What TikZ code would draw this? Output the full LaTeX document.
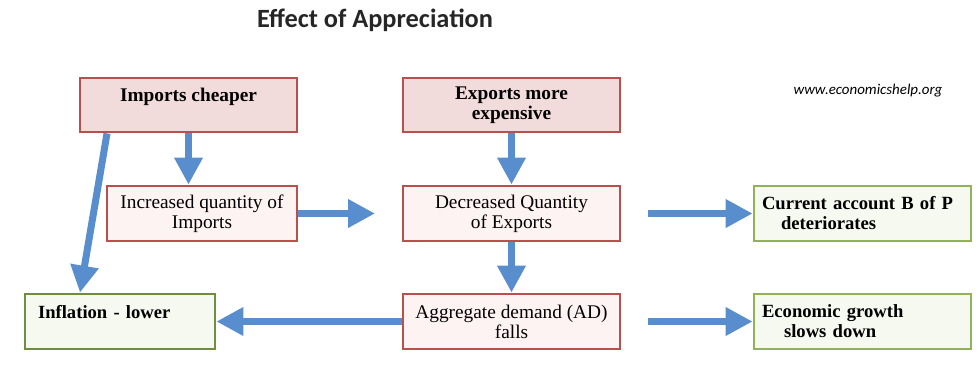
\documentclass[tikz,border=0pt]{standalone}
\usepackage{fontspec}
\setmainfont{Liberation Serif}
\newfontfamily\headfont{Carlito}
\usetikzlibrary{arrows.meta}
\definecolor{redline}{RGB}{185,80,77}
\definecolor{redfill}{RGB}{242,220,219}
\definecolor{palered}{RGB}{253,243,242}
\definecolor{greenline}{RGB}{145,178,88}
\definecolor{darkgreen}{RGB}{112,140,64}
\definecolor{greenfill}{RGB}{246,249,239}
\definecolor{flowblue}{RGB}{88,142,206}
\begin{document}
\begin{tikzpicture}
  [x=0.02cm,y=-0.02cm,every node/.style={font=\fontsize{11}{11.4}\selectfont,inner sep=0pt}]
  \tikzstyle{cause} = [draw=redline,fill=redfill,line width=1.6pt,minimum width=4.34cm,minimum height=1.08cm,align=center,font=\fontsize{11}{11.4}\selectfont\bfseries]
  \tikzstyle{stage} = [draw=redline,fill=palered,line width=1.6pt,minimum height=1.1cm,align=center]
  \tikzstyle{result} = [draw=greenline,fill=greenfill,line width=1.6pt,minimum height=1.1cm,align=left,font=\fontsize{10.6}{11.4}\selectfont\bfseries]
  \tikzstyle{flow} = [draw=flowblue,line width=0.14cm,-{Triangle[width=0.54cm,length=0.54cm]}]
  \useasboundingbox (0,0) rectangle (978,390);
  \node[anchor=base,font=\headfont\fontsize{15}{18}\selectfont\bfseries,text=black!85] (title) at (375,27) {Effect of Appreciation};
  \node[anchor=base,font=\headfont\fontsize{8.5}{10}\selectfont\itshape] (web) at (868,94) {www.economicshelp.org};
  \node[cause] (imp) at (188.5,105) {Imports cheaper\\~};
  \node[cause] (exp) at (511.5,105) {Exports more\\expensive};
  \node[stage,minimum width=3.8cm] (inc) at (202,213.5) {Increased quantity of\\Imports};
  \node[stage,minimum width=4.34cm] (dec) at (511.5,213.5) {Decreased Quantity\\of Exports};
  \node[stage,minimum width=4.34cm] (ad) at (511.5,321.5) {Aggregate demand (AD)\\falls};
  \node[result,text width=4.02cm,minimum width=4.34cm] (cur) at (862.5,213.5) {Current account B of P\\\hspace*{0.38cm}deteriorates};
  \node[result,text width=4.02cm,minimum width=4.34cm] (eco) at (862.5,321.5) {Economic growth\\\hspace*{0.44cm}slows down};
  \node[result,draw=darkgreen,text width=3.28cm,minimum width=3.8cm] (infl) at (120,321.5) {Inflation - lower\\~};
  \coordinate (gap) at (375,213.5);
  \foreach \source/\dest in {inc.east/gap,exp.south/dec.north,dec.south/ad.north,ad.west/infl.east}
    \draw[flow] (\source) -- (\dest);
  \draw[flow] (imp.south) -- (imp.south |- inc.north);
  \draw[flow] ([xshift=-1.63cm]imp.south) -- ([xshift=-0.8cm]infl.north);
  \draw[flow,shorten <=0.54cm] (dec.east) -- (cur.west);
  \draw[flow,shorten <=0.54cm] (ad.east) -- (eco.west);
\end{tikzpicture}
\end{document}
